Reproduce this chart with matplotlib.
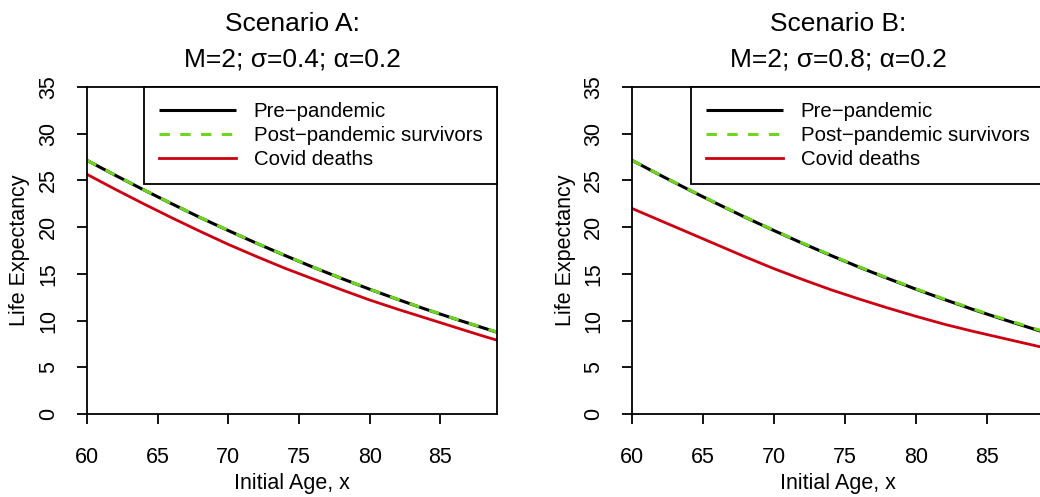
import matplotlib
matplotlib.use("Agg")
import matplotlib.pyplot as plt

plt.rcParams['font.family'] = ['Liberation Sans', 'DejaVu Sans']

age = [60, 62, 64, 66, 68, 70, 72, 74, 76, 78, 80, 82, 84, 86, 88, 89]
pre_pandemic = [27.15, 25.55, 24.0, 22.5, 21.03, 19.63, 18.27, 16.97, 15.71, 14.51, 13.35, 12.25, 11.19, 10.19, 9.23, 8.75]
post_A = [27.15, 25.56, 24.01, 22.51, 21.04, 19.64, 18.28, 16.98, 15.72, 14.52, 13.36, 12.26, 11.2, 10.2, 9.25, 8.77]
covid_A = [25.65, 24.05, 22.5, 21.0, 19.55, 18.15, 16.85, 15.6, 14.45, 13.3, 12.2, 11.2, 10.25, 9.3, 8.35, 7.9]
post_B = [27.15, 25.56, 24.02, 22.52, 21.05, 19.65, 18.3, 17.0, 15.74, 14.55, 13.39, 12.29, 11.24, 10.25, 9.3, 8.83]
covid_B = [22.0, 20.7, 19.4, 18.1, 16.8, 15.55, 14.4, 13.3, 12.3, 11.35, 10.45, 9.6, 8.85, 8.15, 7.45, 7.1]

titles = ["Scenario A:", "Scenario B:"]
subtitles = ["M=2; \u03c3=0.4; \u03b1=0.2", "M=2; \u03c3=0.8; \u03b1=0.2"]
legend_labels = ["Pre\u2212pandemic", "Post\u2212pandemic survivors", "Covid deaths"]
xticks = [60, 65, 70, 75, 80, 85]
yticks = [0, 5, 10, 15, 20, 25, 30, 35]

W, H = 1040, 497
fig = plt.figure(figsize=(W / 100, H / 100), dpi=100)

panels = [
    (87, 497, post_A, covid_A),
    (632, 1044, post_B, covid_B),
]
black = "#000000"
green = "#6ED61E"
red = "#CC0011"

for i, (x0, x1, post, covid) in enumerate(panels):
    ax = fig.add_axes([x0 / W, (H - 414) / H, (x1 - x0) / W, 327 / H])
    ax.plot(age, pre_pandemic, color=black, lw=2.2, solid_capstyle='butt')
    ax.plot(age, post, color=green, lw=2.2, dashes=(3.4, 3.4))
    ax.plot(age, covid, color=red, lw=2.0)
    ax.set_xlim(60, 89)
    ax.set_ylim(0, 35)
    ax.set_xticks(xticks)
    ax.set_yticks(yticks)
    ax.set_xticklabels([str(v) for v in xticks], fontsize=15.5)
    ax.set_yticklabels([str(v) for v in yticks], fontsize=15.5, rotation=90, va='center')
    ax.tick_params(axis='both', direction='out', length=7, width=1.3, colors='black')
    ax.tick_params(axis='x', pad=17)
    ax.tick_params(axis='y', pad=13)
    for s in ax.spines.values():
        s.set_linewidth(1.3)
        s.set_color('black')
    ax.set_xlabel("Initial Age, x", fontsize=15.5, va='center')
    ax.set_ylabel("Life Expectancy", fontsize=15.5, va='center')
    ax.xaxis.set_label_coords(0.5, -(483 - 414) / 327)
    ax.yaxis.set_label_coords(-67 / (x1 - x0), 0.5)
    leg = ax.legend(legend_labels, loc='upper right', fontsize=14.7, frameon=True,
                    fancybox=False, edgecolor='black', borderaxespad=0,
                    handlelength=3.77, handletextpad=0.88, borderpad=0.72,
                    labelspacing=0.25, framealpha=1)
    leg.get_frame().set_linewidth(1.3)
    cx = (x0 + x1) / 2 / W
    fig.text(cx, 1 - 31 / H, titles[i], ha='center', va='baseline', fontsize=19)
    fig.text(cx, 1 - 67 / H, subtitles[i], ha='center', va='baseline', fontsize=19)

fig.savefig("out.png", dpi=100)
